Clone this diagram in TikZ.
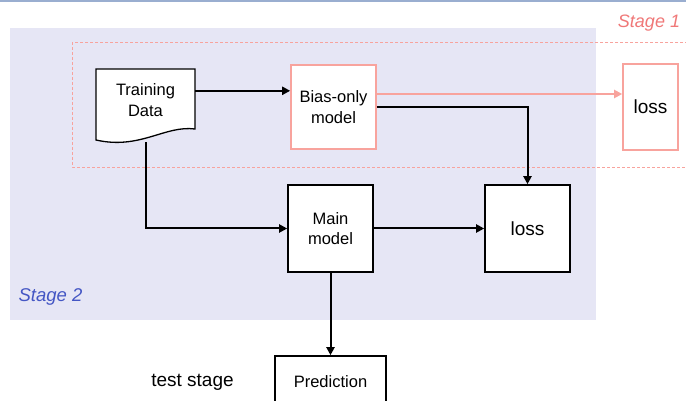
\documentclass[tikz,border=0pt]{standalone}
\usepackage{fontspec}
\setmainfont{Liberation Sans}
\usetikzlibrary{arrows.meta,calc}
\definecolor{lav}{HTML}{E6E6F5}
\definecolor{pinkline}{HTML}{F8A39D}
\definecolor{pinktext}{HTML}{F07878}
\definecolor{bluetext}{HTML}{4456C4}
\definecolor{topline}{HTML}{9AAED0}
\begin{document}
\begin{tikzpicture}[x=1pt,y=-1pt,
  box/.style={draw=black,line width=1.6pt,fill=white,inner sep=0pt,align=center,font=\fontsize{16.5}{20.5}\selectfont},
  pbox/.style={box,draw=pinkline},
  bigtxt/.style={font=\fontsize{19}{22}\selectfont},
  conn/.style={draw=black,line width=2pt,-{Triangle[length=8pt,width=8pt]}},
  pconn/.style={conn,draw=pinkline,-{Triangle[length=8pt,width=8pt,fill=pinkline]}},
  lbl/.style={inner sep=0pt,font=\fontsize{19}{22}\selectfont}
]
\useasboundingbox (0,0) rectangle (686,401);
\clip (0,0) rectangle (686,401);
\fill[white] (0,0) rectangle (686,401);
\draw[topline,line width=1.5pt] (0,1) -- (686,1);
\fill[lav] (10,28) rectangle (596,320);
\draw[pinkline,line width=0.8pt,dash pattern=on 3pt off 2pt] (72,42) rectangle (700,167);

% document shape
\draw[line width=1.3pt,fill=white] (96,69) -- (195,69) -- (195,129)
  .. controls (165,125) and (140,150) .. (96,140) -- cycle;
\node[inner sep=0pt,minimum width=99pt,minimum height=62pt,align=center,
  font=\fontsize{16.5}{20.5}\selectfont] (td) at (145.5,100) {Training\\Data};

\node[pbox,minimum width=85pt,minimum height=84pt] (bias) at (333.5,107) {Bias-only\\model};
\node[pbox,bigtxt,minimum width=55pt,minimum height=86pt] (loss1) at (650.5,107) {loss};
\node[box,minimum width=85pt,minimum height=87pt] (main) at (330.5,228.5) {Main\\model};
\node[box,bigtxt,minimum width=85pt,minimum height=87pt] (loss2) at (527.5,228.5) {loss};
\node[box,minimum width=111pt,minimum height=52pt] (pred) at (330.5,382) {Prediction};

\node[lbl,text=pinktext,font=\fontsize{18}{22}\selectfont\itshape] (s1) at (649,23) {Stage 1};
\node[lbl,text=bluetext,font=\fontsize{18.5}{22}\selectfont\itshape] (s2) at (50.5,297) {Stage 2};
\node[lbl] (ts) at (192.5,382) {test stage};

\coordinate (a1) at ($(td.north east)+(0,22)$);
\draw[conn] (a1) -- (a1 -| bias.west);
\coordinate (p1) at ($(bias.east)+(0,-13)$);
\draw[pconn] (p1) -- (p1 -| loss1.west);
\draw[conn] (bias.east) -| (loss2.north);
\draw[conn] ($(td.south)+(0,11)$) |- (main.west);
\draw[conn] (main.east) -- (loss2.west);
\draw[conn] (main.south) -- (pred.north);
\end{tikzpicture}
\end{document}
